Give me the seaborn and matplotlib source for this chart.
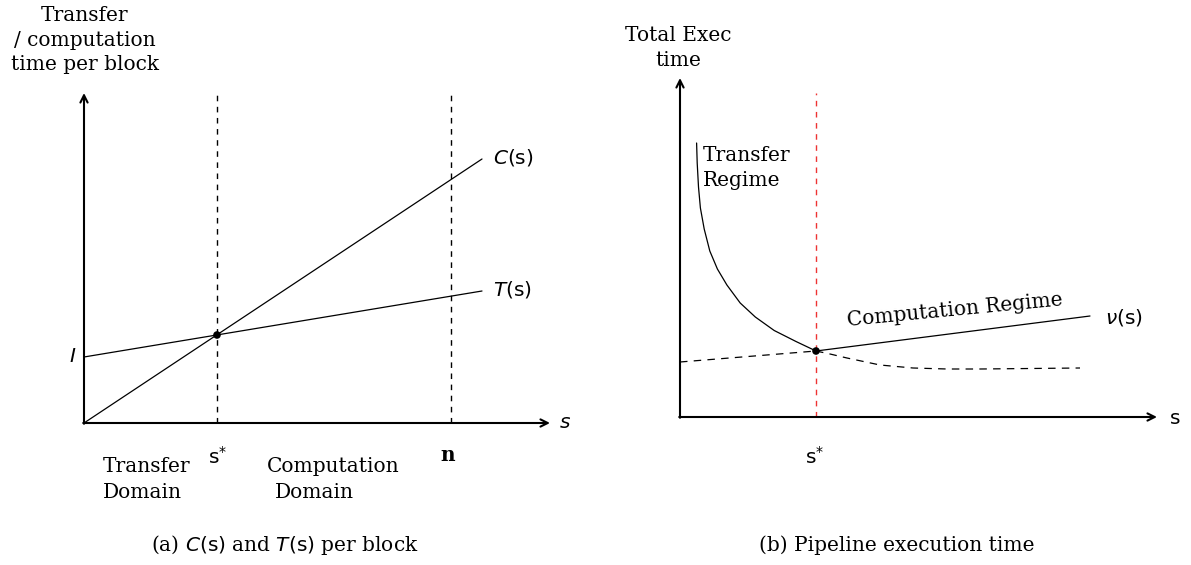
import matplotlib.pyplot as plt
import seaborn as sns

sns.set_style("white")
plt.rcParams["font.family"] = ["DejaVu Serif"]
plt.rcParams["mathtext.fontset"] = "dejavusans"
plt.rcParams["text.color"] = "black"

# chart units: 1 unit = 10 px, origin at the corner of each panel's axes
# (a) per block times
block_s = [0, 39.8]
compute_time = [0, 26.4]
transfer_time = [6.6, 13.2]
s_star_a = 13.3
cross_a = 8.8
n_block = 36.7

# (b) total execution time
transfer_s = [1.66, 1.72, 1.85, 2.04, 2.42, 2.98, 3.74, 4.69, 6.02, 7.53, 9.42, 11.6, 13.6]
transfer_total = [27.4, 25.4, 23.0, 20.9, 18.8, 16.6, 14.8, 13.2, 11.4, 10.0, 8.65, 7.55, 6.6]
hidden_s = [13.6, 15.0, 16.7, 20.0, 23.3, 26.7, 30.0, 35.0, 40.0]
hidden_total = [6.6, 6.3, 5.9, 5.2, 4.9, 4.8, 4.8, 4.85, 4.9]
compute_s = [0, 13.6, 41.0]
compute_total = [5.5, 6.6, 10.1]
s_star_b = 13.6
cross_b = 6.6

FS = 14.5
DASH = (0, (4, 4))

fig = plt.figure(figsize=(11.91, 5.65), dpi=100)
ax1 = fig.add_axes([0, 0, 595 / 1191, 1])
ax2 = fig.add_axes([595 / 1191, 0, 596 / 1191, 1])
ax1.set_xlim(-8.4, 51.1)
ax1.set_ylim(-14.2, 42.3)
ax2.set_xlim(-8.5, 51.1)
ax2.set_ylim(-14.8, 41.7)


def draw_axes(ax, x_end, y_end):
    arrow = dict(arrowstyle="->", lw=1.5, color="black", shrinkA=0, shrinkB=0, mutation_scale=13)
    ax.annotate("", xy=(x_end, 0), xytext=(-0.08, 0), arrowprops=arrow)
    ax.annotate("", xy=(0, y_end), xytext=(0, -0.08), arrowprops=arrow)
    ax.axis("off")


# ---- panel (a)
draw_axes(ax1, 46.6, 33.0)
ax1.vlines([s_star_a, n_block], 0, 32.8, colors="black", lw=1.0, linestyles=[DASH])
sns.lineplot(x=block_s, y=compute_time, ax=ax1, color="black", lw=0.9, estimator=None)
sns.lineplot(x=block_s, y=transfer_time, ax=ax1, color="black", lw=0.9, estimator=None)
sns.scatterplot(x=[s_star_a], y=[cross_a], ax=ax1, color="black", s=30, zorder=5, edgecolor="none")

ax1.text(0.1, 38.3, "Transfer\n/ computation\ntime per block", ha="center", va="center",
         fontsize=FS, linespacing=1.38)
ax1.text(40.9, 26.6, r"$C(\mathrm{s})$", ha="left", va="center", fontsize=FS)
ax1.text(40.9, 13.4, r"$T(\mathrm{s})$", ha="left", va="center", fontsize=FS)
ax1.text(-1.1, 6.6, r"$I$", ha="center", va="center", fontsize=FS)
ax1.text(48.1, 0, r"$s$", ha="center", va="center", fontsize=FS)
ax1.text(13.4, -3.4, r"$\mathrm{s}^{*}$", ha="center", va="center", fontsize=FS)
ax1.text(36.4, -3.2, "n", ha="center", va="center", fontsize=FS, fontweight="bold")
ax1.text(1.9, -4.4, "Transfer", ha="left", va="center", fontsize=FS)
ax1.text(1.9, -7.0, "Domain", ha="left", va="center", fontsize=FS)
ax1.text(18.3, -4.4, "Computation", ha="left", va="center", fontsize=FS)
ax1.text(19.1, -7.0, "Domain", ha="left", va="center", fontsize=FS)
ax1.text(20.1, -12.2, r"(a) $C(\mathrm{s})$ and $T(\mathrm{s})$ per block", ha="center",
         va="center", fontsize=FS)

# ---- panel (b)
draw_axes(ax2, 47.7, 33.9)
ax2.vlines([s_star_b], 0, 32.4, colors="#ee3333", lw=1.0, linestyles=[DASH])
sns.lineplot(x=transfer_s, y=transfer_total, ax=ax2, color="black", lw=0.9, estimator=None)
sns.lineplot(x=hidden_s, y=hidden_total, ax=ax2, color="black", lw=0.9, estimator=None,
             linestyle=(0, (6, 5)))
sns.lineplot(x=compute_s[:2], y=compute_total[:2], ax=ax2, color="black", lw=0.9,
             estimator=None, linestyle=(0, (6, 5)))
sns.lineplot(x=compute_s[1:], y=compute_total[1:], ax=ax2, color="black", lw=0.9, estimator=None)
sns.scatterplot(x=[s_star_b], y=[cross_b], ax=ax2, color="black", s=30, zorder=5, edgecolor="none")

ax2.text(-0.2, 36.9, "Total Exec\ntime", ha="center", va="center", fontsize=FS, linespacing=1.45)
ax2.text(2.3, 24.9, "Transfer\nRegime", ha="left", va="center", fontsize=FS, linespacing=1.45)
ax2.text(27.5, 10.7, "Computation Regime", ha="center", va="center", fontsize=FS,
         rotation=5.5, rotation_mode="anchor")
ax2.text(42.5, 9.9, r"$\nu(\mathrm{s})$", ha="left", va="center", fontsize=FS)
ax2.text(49.5, -0.2, r"$\mathrm{s}$", ha="center", va="center", fontsize=FS)
ax2.text(13.5, -4.0, r"$\mathrm{s}^{*}$", ha="center", va="center", fontsize=FS)
ax2.text(21.7, -12.8, "(b) Pipeline execution time", ha="center", va="center", fontsize=FS)

fig.savefig("out.png", dpi=100)
